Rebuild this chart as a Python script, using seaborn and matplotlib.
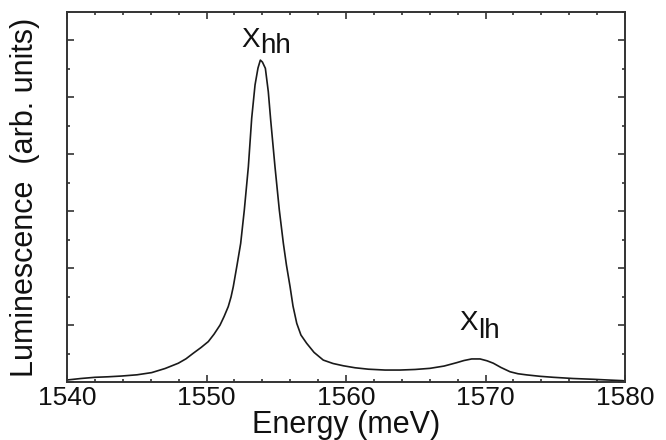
import numpy as np
import pandas as pd
import matplotlib
matplotlib.use("Agg")
import matplotlib.pyplot as plt
from matplotlib.ticker import MultipleLocator
import seaborn as sns

energy = [1540.00, 1541.00, 1542.01, 1542.94, 1543.92, 1545.02, 1546.07, 1547.03,
          1547.98, 1548.53, 1549.05, 1549.61, 1550.13, 1550.54, 1550.97, 1551.26,
          1551.56, 1551.76, 1551.92, 1552.19, 1552.45, 1552.71, 1553.00, 1553.24,
          1553.48, 1553.69, 1553.86, 1554.01, 1554.22, 1554.43, 1554.60, 1554.91,
          1555.22, 1555.51, 1555.73, 1555.99, 1556.20, 1556.47, 1556.77, 1557.18,
          1557.71, 1558.37, 1559.07, 1559.81, 1560.65, 1561.60, 1562.80, 1563.87,
          1564.95, 1566.02, 1567.03, 1567.94, 1568.46, 1569.01, 1569.61, 1570.11,
          1570.56, 1571.11, 1571.76, 1572.33, 1572.95, 1573.91, 1574.86, 1576.27,
          1577.73, 1578.78, 1579.88]
luminescence = [0.07, 0.123, 0.165, 0.183, 0.21, 0.253, 0.33, 0.474,
                0.66, 0.815, 1.01, 1.212, 1.42, 1.68, 2.00, 2.30,
                2.65, 2.99, 3.35, 4.11, 4.87, 6.04, 7.56, 9.27,
                10.44, 11.03, 11.31, 11.24, 11.02, 10.20, 9.21, 7.56,
                6.04, 4.87, 4.11, 3.35, 2.67, 2.06, 1.65, 1.36,
                1.04, 0.77, 0.65, 0.57, 0.50, 0.45, 0.42, 0.42,
                0.44, 0.48, 0.56, 0.68, 0.755, 0.81, 0.81, 0.745,
                0.66, 0.51, 0.36, 0.29, 0.25, 0.20, 0.165, 0.123,
                0.095, 0.07, 0.046]

x_ticks = [1540, 1550, 1560, 1570, 1580]
x_tick_labels = ["1540", "1550", "1560", "1570", "1580"]
peak_labels = [("X", "hh", 1552.5, 11.77, -4.3), ("X", "lh", 1568.1, 1.83, -5.5)]

sns.set_theme(style="ticks")
plt.rcParams['font.family'] = ['Liberation Sans', 'DejaVu Sans']

df = pd.DataFrame({"Energy": energy, "Lum": luminescence})

fig = plt.figure(figsize=(6.66, 4.40), dpi=100)
ax = fig.add_axes([67/666, 1-382/440, (625-67)/666, (382-12)/440])

sns.lineplot(data=df, x="Energy", y="Lum", ax=ax, color="#1a1a1a", linewidth=1.2)

ax.set_xlim(1540, 1580)
ax.set_ylim(0, 13)
ax.set_xticks(x_ticks)
ax.set_xticklabels(x_tick_labels)
ax.xaxis.set_minor_locator(MultipleLocator(2))
ax.yaxis.set_major_locator(MultipleLocator(2))
ax.yaxis.set_minor_locator(MultipleLocator(1))
ax.set_yticklabels([])

for s in ax.spines.values():
    s.set_color("#333333")
    s.set_linewidth(1.4)
    s.set_visible(True)

ax.tick_params(axis="both", which="both", direction="in", top=True, right=True,
               color="#333333", width=1.2)
ax.tick_params(axis="both", which="major", length=5)
ax.tick_params(axis="both", which="minor", length=2.5)
ax.tick_params(axis="x", which="major", labelsize=19, pad=3, labelcolor="#111111")
ax.tick_params(axis="y", labelleft=False)

ax.set_xlabel("Energy (meV)", fontsize=22, labelpad=0, color="#111111")
ax.set_ylabel("Luminescence  (arb. units)", fontsize=22, labelpad=16, color="#111111")

for main, sub, xe, yv, drop in peak_labels:
    ax.text(xe, yv, main, fontsize=20, ha="left", va="baseline", color="#111111")
    ax.annotate(sub, xy=(xe, yv), xytext=(13.5, drop), textcoords="offset points",
                fontsize=20, ha="left", va="baseline", color="#111111")

fig.savefig("out.png", dpi=100)
